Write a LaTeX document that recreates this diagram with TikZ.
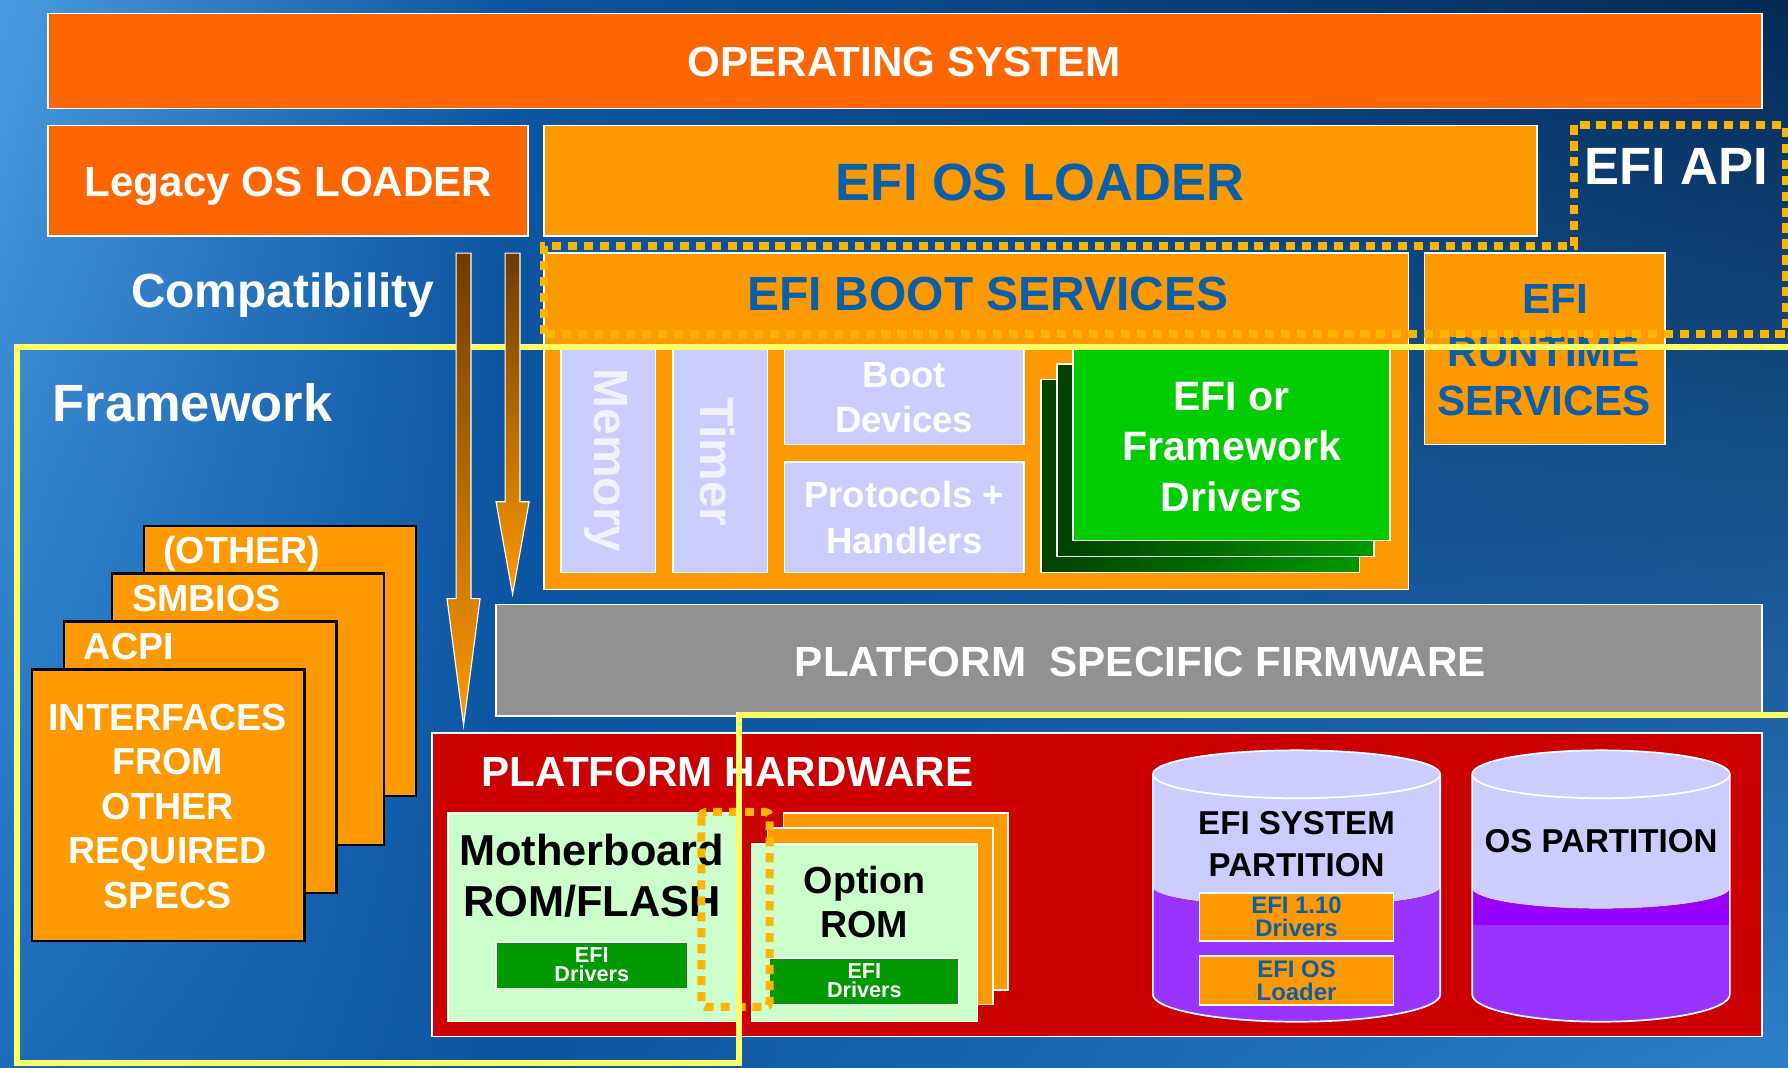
\documentclass[tikz,border=0pt]{standalone}
\usepackage{fontspec}
\setmainfont{Liberation Sans}
\usetikzlibrary{shadings}
\newcommand\fsz[2]{\fontsize{#1}{#2}\selectfont}
\definecolor{cOr}{HTML}{FF9900}
\definecolor{cDOr}{HTML}{FF6600}
\definecolor{cBlueT}{HTML}{0B5FA9}
\definecolor{cLav}{HTML}{CCCCFF}
\definecolor{cLavT}{HTML}{F2F2FF}
\definecolor{cGreen}{HTML}{00CC00}
\definecolor{cDGreen}{HTML}{009900}
\definecolor{cBGreen}{HTML}{004000}
\definecolor{cMB}{HTML}{CCFFCC}
\definecolor{cRed}{HTML}{CC0000}
\definecolor{cGray}{HTML}{919191}
\definecolor{cYel}{HTML}{FFFF66}
\definecolor{cDot}{HTML}{FFB400}
\definecolor{cPur}{HTML}{9933FF}
\definecolor{cVio}{HTML}{9900FF}
\definecolor{cArrTop}{HTML}{6E3C00}
\definecolor{bgL}{HTML}{4A9BE0}
\definecolor{bgLB}{HTML}{1C6CBA}
\definecolor{bgM}{HTML}{0C55A0}
\definecolor{bgN}{HTML}{052A55}
\definecolor{bgR}{HTML}{2C7FCB}
\begin{document}
\begin{tikzpicture}[x=1pt,y=-1pt,
  bx/.style={draw=white, line width=1.3pt, inner sep=0pt, outer sep=0pt},
  blk/.style={draw=black, line width=2pt, fill=cOr, inner sep=0pt, outer sep=0pt},
  wt/.style={text=white, inner sep=0pt, align=center},
  bt/.style={text=cBlueT, inner sep=0pt, align=center},
  kt/.style={text=black, inner sep=0pt, align=center},
  dots/.style={draw=cDot, line width=7pt, dash pattern=on 8pt off 6pt},
  yframe/.style={draw=cYel, line width=5.5pt},
  arr/.style={top color=cArrTop, bottom color=cOr, draw=white, line width=1pt}
]
\useasboundingbox (0,0) rectangle (1568,936);
% background
\shade[upper left=bgL, lower left=bgLB, upper right=bgM, lower right=bgM] (0,0) rectangle (450,936);
\shade[upper left=bgM, lower left=bgM, upper right=bgN, lower right=bgR] (450,0) rectangle (1568,936);

% top layers
\node[bx, fill=cDOr, minimum width=1503pt, minimum height=83pt] (os) at (793.5,53.5) {};
\node[wt, font=\bfseries\fsz{37}{40}, anchor=base] (ost) at (793,67) {OPERATING SYSTEM};
\node[bx, fill=cDOr, minimum width=421pt, minimum height=97pt] (leg) at (252.5,158.5) {};
\node[wt, font=\bfseries\fsz{37}{40}, anchor=base] (legt) at (253,172.5) {Legacy OS LOADER};
\node[bx, fill=cOr, minimum width=871pt, minimum height=97pt] (efil) at (912.5,158.5) {};
\node[bt, font=\bfseries\fsz{46}{50}, anchor=base] (eflt) at (912,175.5) {EFI OS LOADER};

% boot services
\node[bx, fill=cOr, minimum width=758pt, minimum height=295pt] (bs) at (856,369.5) {};
\node[bt, font=\bfseries\fsz{42}{46}, anchor=base] (bst) at (866,272) {EFI BOOT SERVICES};
\node[bx, fill=cOr, minimum width=211pt, minimum height=168pt] (rt) at (1354.5,306) {};
\node[bt, font=\bfseries\fsz{37}{40}, anchor=base] (rt1) at (1364,275) {EFI};
\node[bt, font=\bfseries\fsz{37}{40}, anchor=base] (rt2) at (1354,321) {RUNTIME};
\node[bt, font=\bfseries\fsz{37}{40}, anchor=base] (rt3) at (1354,364) {SERVICES};

\node[bx, fill=cLav, minimum width=83pt, minimum height=200pt] (mem) at (533.5,402) {};
\node[text=cLavT, inner sep=0pt, font=\bfseries\fsz{42}{46}, rotate=-90] (memt) at (531,404) {Memory};
\node[bx, fill=cLav, minimum width=83pt, minimum height=200pt] (tim) at (631.5,402) {};
\node[text=cLavT, inner sep=0pt, font=\bfseries\fsz{42}{46}, rotate=-90] (timt) at (629,405) {Timer};
\node[bx, fill=cLav, minimum width=210pt, minimum height=88pt] (bdev) at (793,346) {};
\node[wt, font=\bfseries\fsz{32}{39.5}] (bdevt) at (793,349) {Boot\\Devices};
\node[bx, fill=cLav, minimum width=210pt, minimum height=97pt] (prot) at (793,453.5) {};
\node[wt, font=\bfseries\fsz{32}{40.5}] (prott) at (793,454) {Protocols +\\Handlers};

\node[bx, left color=cBGreen, right color=cDGreen, minimum width=279pt, minimum height=169pt] (g3) at (1052.5,417.5) {};
\node[bx, left color=cBGreen, right color=cDGreen, minimum width=278pt, minimum height=169pt] (g2) at (1066,403.5) {};
\node[bx, fill=cGreen, minimum width=278pt, minimum height=169pt] (g1) at (1080,389.5) {};
\node[wt, font=\bfseries\fsz{36}{44.5}] (drvt) at (1080,392) {EFI or\\Framework\\Drivers};

% platform specific firmware
\node[bx, fill=cGray, minimum width=1110pt, minimum height=98pt] (psf) at (990,579) {};
\node[wt, font=\bfseries\fsz{37}{40}, anchor=base] (psft) at (1000,593.5) {PLATFORM\ \ SPECIFIC FIRMWARE};

% platform hardware
\node[bx, fill=cRed, minimum width=1166pt, minimum height=266pt] (ph) at (962,776) {};
\node[wt, font=\bfseries\fsz{37}{40}, anchor=base] (pht) at (638,689.5) {PLATFORM HARDWARE};

\node[bx, fill=cMB, minimum width=255pt, minimum height=183pt] (mb) at (520.5,804.5) {};
\node[kt, font=\bfseries\fsz{38}{44}] (mbt) at (519,768) {Motherboard\\ROM/FLASH};
\node[bx, fill=cDGreen, minimum width=168pt, minimum height=41pt] (mbd) at (519,846.5) {};
\node[wt, font=\bfseries\fsz{19}{17}] (mbdt) at (519,846) {EFI\\Drivers};

\node[bx, fill=cOr, minimum width=197pt, minimum height=155pt] (or3) at (785.5,790.5) {};
\node[bx, fill=cOr, minimum width=198pt, minimum height=155pt] (or2) at (772,803.5) {};
\node[bx, fill=cMB, minimum width=198pt, minimum height=156pt] (or1) at (758,818) {};
\node[kt, font=\bfseries\fsz{33}{38}] (ort) at (758,791) {Option\\ROM};
\node[bx, fill=cDGreen, minimum width=166pt, minimum height=41pt] (ord) at (758,860.5) {};
\node[wt, font=\bfseries\fsz{19}{17}] (ordt) at (758,860) {EFI\\Drivers};

% cylinders
\fill[cLav] (1011,679) -- (1011,778) arc[start angle=180, end angle=360, x radius=126pt, y radius=17pt] -- (1263,679) -- cycle;
\fill[cPur] (1011,778) arc[start angle=180, end angle=360, x radius=126pt, y radius=17pt] -- (1263,872) arc[start angle=0, end angle=-180, x radius=126pt, y radius=24pt] -- cycle;
\draw[white, line width=1.5pt] (1011,679) -- (1011,872) arc[start angle=180, end angle=360, x radius=126pt, y radius=24pt] -- (1263,679);
\filldraw[fill=cLav, draw=white, line width=1.5pt] (1137,679) ellipse[x radius=126pt, y radius=21pt];
\node[kt, font=\bfseries\fsz{29}{37}] (espt) at (1137,740) {EFI SYSTEM\\PARTITION};
\node[bx, fill=cOr, minimum width=170pt, minimum height=42pt] (e110) at (1137,804) {};
\node[bt, font=\bfseries\fsz{21}{20.5}] (e110t) at (1137,804) {EFI 1.10\\Drivers};
\node[bx, fill=cOr, minimum width=170pt, minimum height=43pt] (eosl) at (1137,860) {};
\node[bt, font=\bfseries\fsz{21}{20.5}] (eoslt) at (1137,860) {EFI OS\\Loader};

\fill[cLav] (1291,679) -- (1291,779) arc[start angle=180, end angle=360, x radius=113pt, y radius=18pt] -- (1517,679) -- cycle;
\fill[cPur] (1291,779) arc[start angle=180, end angle=360, x radius=113pt, y radius=18pt] -- (1517,872) arc[start angle=0, end angle=-180, x radius=113pt, y radius=24pt] -- cycle;
\fill[cVio] (1291,779) arc[start angle=180, end angle=360, x radius=113pt, y radius=18pt] -- (1517,811) -- (1291,811) -- cycle;
\draw[white, line width=1.5pt] (1291,679) -- (1291,872) arc[start angle=180, end angle=360, x radius=113pt, y radius=24pt] -- (1517,679);
\filldraw[fill=cLav, draw=white, line width=1.5pt] (1404,679) ellipse[x radius=113pt, y radius=21pt];
\node[kt, font=\bfseries\fsz{29}{37}, anchor=base] (ospt) at (1404,748) {OS PARTITION};

% left stack
\node[blk, minimum width=239pt, minimum height=237pt] (oth) at (245.5,579.5) {};
\node[wt, font=\bfseries\fsz{33}{39}, anchor=base] (otht) at (212,494) {(OTHER)};
\node[blk, minimum width=239pt, minimum height=238pt] (smb) at (217.5,622) {};
\node[wt, font=\bfseries\fsz{33}{39}, anchor=base] (smbt) at (181,536) {SMBIOS};
\node[blk, minimum width=239pt, minimum height=238pt] (acpi) at (175.5,664) {};
\node[wt, font=\bfseries\fsz{33}{39}, anchor=base] (acpit) at (113,578) {ACPI};
\node[blk, minimum width=239pt, minimum height=238pt] (intf) at (147.5,706) {};
\node[wt, font=\bfseries\fsz{33}{39}] (intft) at (147,707) {INTERFACES\\FROM\\OTHER\\REQUIRED\\SPECS};

% free labels
\node[wt, font=\bfseries\fsz{42}{46}, anchor=base] (compt) at (248,270) {Compatibility};
\node[wt, font=\bfseries\fsz{46}{50}, anchor=base west] (fwt) at (46,370) {Framework};
\node[wt, font=\bfseries\fsz{46}{50}, anchor=base] (apit) at (1470,162) {EFI API};

% dotted Option ROM boundary
\draw[dots, rounded corners=4pt] (615,712) rectangle (675,883);

% yellow framework frame
\draw[yframe] (1580,304) -- (15,304) -- (15,932) -- (648,932) -- (648,627) -- (1580,627);

% compatibility arrows
\shadedraw[arr] (400,222) -- (413,222) -- (413,525) -- (421,525) -- (406.5,636) -- (392,525) -- (400,525) -- cycle;
\shadedraw[arr] (443,222) -- (456,222) -- (456,440) -- (464,440) -- (449.5,521) -- (435,440) -- (443,440) -- cycle;

% EFI API dotted boundary
\draw[dots] (477,293) -- (477,216) -- (1380,216) -- (1380,110) -- (1566,110) -- (1566,293) -- cycle;
\end{tikzpicture}
\end{document}
